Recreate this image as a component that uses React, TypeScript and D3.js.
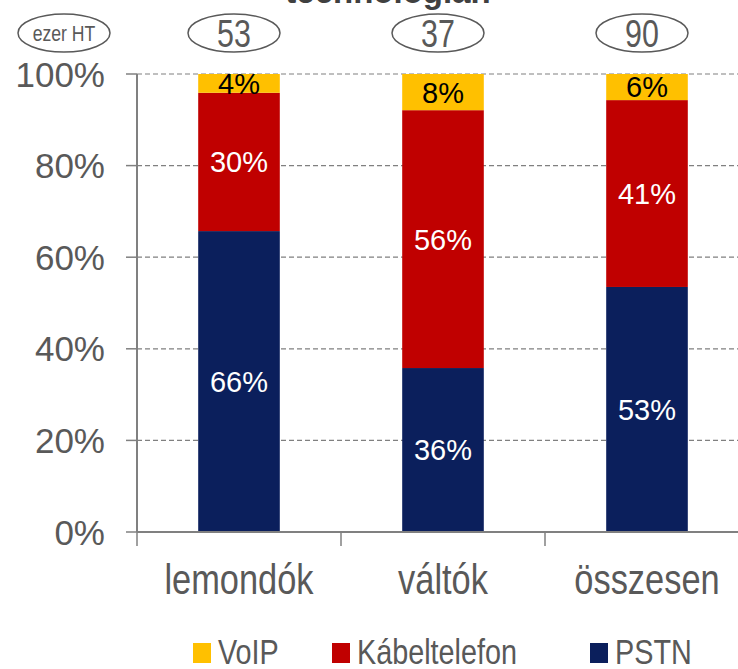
import React, { useEffect, useRef } from "react";
import * as d3 from "d3";

const categories = ["lemondók", "váltók", "összesen"];
const totals = ["53", "37", "90"];
const seriesNames = ["PSTN", "Kábeltelefon", "VoIP"];
const pstn = [65.7, 35.8, 53.5];
const kabel = [30.2, 56.3, 40.8];
const voip = [4.1, 7.9, 5.7];
const pstnLabels = ["66%", "36%", "53%"];
const kabelLabels = ["30%", "56%", "41%"];
const voipLabels = ["4%", "8%", "6%"];
const yTicks = [0, 20, 40, 60, 80, 100];
const legendOrder = ["VoIP", "Kábeltelefon", "PSTN"];

const W = 738;
const H = 669;
const colors: Record<string, string> = {
  PSTN: "#0B1F5C",
  Kábeltelefon: "#C00000",
  VoIP: "#FFC000",
};
const gray = "#595959";
const sans = "'Liberation Sans', Arial, sans-serif";
const squeeze = 0.8; // narrow font look

const App = () => {
  const ref = useRef<SVGSVGElement>(null);

  useEffect(() => {
    const svg = d3.select(ref.current);
    svg.selectAll("*").remove();

    const x = d3
      .scaleBand<string>()
      .domain(categories)
      .range([137, 749])
      .paddingInner(0.6)
      .paddingOuter(0.3);
    const y = d3.scaleLinear().domain([0, 100]).range([532, 74]);

    // helper for condensed text
    const narrowText = (
      g: d3.Selection<any, any, any, any>,
      tx: number,
      ty: number,
      size: number,
      txt: string,
      anchor = "middle"
    ) =>
      g.append("text")
        .attr("transform", `translate(${tx},${ty}) scale(${squeeze},1)`)
        .attr("text-anchor", anchor)
        .attr("font-family", sans)
        .attr("font-size", size)
        .attr("fill", gray)
        .text(txt);

    // grid lines
    svg.append("g")
      .selectAll("line")
      .data(yTicks.filter((t) => t > 0))
      .join("line")
      .attr("x1", 137)
      .attr("x2", W)
      .attr("y1", (d) => y(d))
      .attr("y2", (d) => y(d))
      .attr("stroke", "#808080")
      .attr("stroke-width", 1.2)
      .attr("stroke-dasharray", "5,3");

    // stacked bars
    const rows = categories.map((c, i) => ({
      cat: c,
      PSTN: pstn[i],
      Kábeltelefon: kabel[i],
      VoIP: voip[i],
    }));
    const stack = d3.stack<any>().keys(seriesNames)(rows);
    const labels: Record<string, string[]> = {
      PSTN: pstnLabels,
      Kábeltelefon: kabelLabels,
      VoIP: voipLabels,
    };

    stack.forEach((layer) => {
      const key = layer.key;
      svg.append("g")
        .selectAll("rect")
        .data(layer)
        .join("rect")
        .attr("x", (d) => x(d.data.cat)!)
        .attr("width", x.bandwidth())
        .attr("y", (d) => y(d[1]))
        .attr("height", (d) => y(d[0]) - y(d[1]))
        .attr("fill", colors[key]);
    });

    stack.forEach((layer) => {
      const key = layer.key;
      svg.append("g")
        .selectAll("text")
        .data(layer)
        .join("text")
        .attr("x", (d) => x(d.data.cat)! + x.bandwidth() / 2)
        .attr("y", (d) => y((d[0] + d[1]) / 2))
        .attr("dy", "0.36em")
        .attr("text-anchor", "middle")
        .attr("font-family", sans)
        .attr("font-size", 29)
        .attr("fill", key === "VoIP" ? "#000" : "#fff")
        .text((d, i) => labels[key][i]);
    });

    // axes
    svg.append("line")
      .attr("x1", 137).attr("x2", 137)
      .attr("y1", y(100)).attr("y2", y(0))
      .attr("stroke", "#808080").attr("stroke-width", 2);
    svg.append("line")
      .attr("x1", 137).attr("x2", W)
      .attr("y1", y(0)).attr("y2", y(0))
      .attr("stroke", "#808080").attr("stroke-width", 2);

    svg.append("g")
      .selectAll("line")
      .data(yTicks)
      .join("line")
      .attr("x1", 126).attr("x2", 137)
      .attr("y1", (d) => y(d)).attr("y2", (d) => y(d))
      .attr("stroke", "#808080").attr("stroke-width", 1.5);

    svg.append("g")
      .selectAll("text")
      .data(yTicks)
      .join("text")
      .attr("x", 105)
      .attr("y", (d) => y(d))
      .attr("dy", "0.36em")
      .attr("text-anchor", "end")
      .attr("font-family", sans)
      .attr("font-size", 35)
      .attr("fill", gray)
      .text((d) => d + "%");

    const step = x.step();
    svg.append("g")
      .selectAll("line")
      .data(d3.range(categories.length))
      .join("line")
      .attr("x1", (i) => 137 + i * step)
      .attr("x2", (i) => 137 + i * step)
      .attr("y1", y(0))
      .attr("y2", y(0) + 14)
      .attr("stroke", "#808080").attr("stroke-width", 1.5);

    const cg = svg.append("g");
    categories.forEach((c) => {
      narrowText(cg, x(c)! + x.bandwidth() / 2, 594, 43, c);
    });

    // title fragment, cut off at top
    svg.append("text")
      .attr("x", 388)
      .attr("y", 3)
      .attr("text-anchor", "middle")
      .attr("font-family", sans)
      .attr("font-weight", "bold")
      .attr("font-size", 33)
      .attr("fill", "#404040")
      .text("technológián");

    // ellipses with totals
    const ell = [{ cx: 64, label: "ezer HT", size: 22 }].concat(
      categories.map((c, i) => ({
        cx: x(c)! + x.bandwidth() / 2 - 5,
        label: totals[i],
        size: 38,
      }))
    );
    const eg = svg.append("g");
    eg.selectAll("ellipse")
      .data(ell)
      .join("ellipse")
      .attr("cx", (d) => d.cx)
      .attr("cy", 33)
      .attr("rx", 46)
      .attr("ry", 19)
      .attr("fill", "none")
      .attr("stroke", gray)
      .attr("stroke-width", 1.5);
    ell.forEach((d) => {
      narrowText(eg, d.cx, 33 + d.size * 0.36, d.size, d.label);
    });

    // legend
    const legendX = [193, 332, 590];
    const lg = svg.append("g");
    legendOrder.forEach((name, i) => {
      lg.append("rect")
        .attr("x", legendX[i])
        .attr("y", 643)
        .attr("width", 18)
        .attr("height", 20)
        .attr("fill", colors[name]);
      narrowText(lg, legendX[i] + 25, 664, 36, name, "start");
    });
  }, []);

  return (
    <svg
      ref={ref}
      width={W}
      height={H}
      style={{ position: "absolute", left: 0, top: 0, background: "#fff" }}
    />
  );
};

export default App;
